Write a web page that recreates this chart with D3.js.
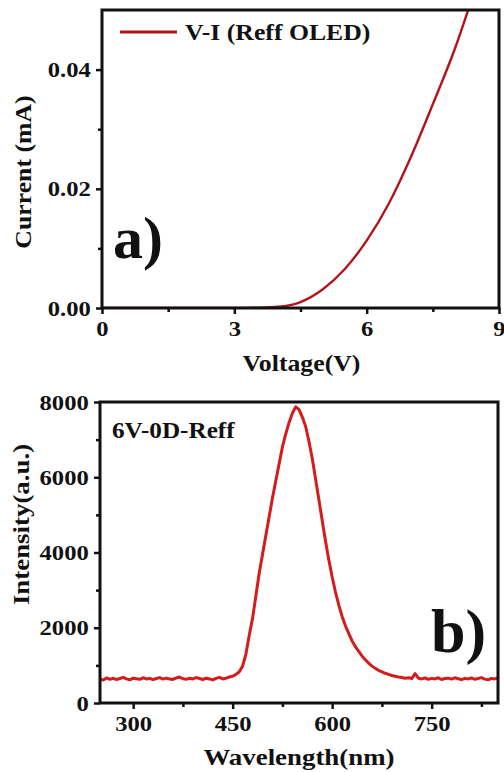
<!DOCTYPE html>
<html><head><meta charset="utf-8">
<script src="https://cdn.jsdelivr.net/npm/d3@7"></script>
<style>
html,body{margin:0;padding:0;background:#fff;}
svg text{font-family:"Liberation Serif","Times New Roman",serif;font-weight:bold;fill:#111;}
</style></head>
<body>
<svg id="c" width="504" height="772"></svg>
<script>
// ---- Panel a data: V-I curve ----
const voltage = [0,0.5,1,1.5,2,2.5,3,3.5,4,4.5,5,5.5,6,6.5,7,7.5,8,8.5];
const current = [0,0,0,0,0,0,0,0.00005,0.0002,0.001,0.0031,0.0065,0.0113,0.0175,0.0253,0.0342,0.0435,0.0545];
const aXTicks = [0,3,6,9];
const aXMinor = [1.5,4.5,7.5];
const aYTicks = [0,0.02,0.04];
const aYMinor = [0.01,0.03];
const aLegend = "V-I (Reff OLED)";

// ---- Panel b data: EL spectrum (5 nm steps) ----
const wavelength = d3.range(250, 851, 5);
const intensity = [
 640,610,665,630,655,625,650,680,640,615,
 660,645,630,670,640,655,620,650,675,635,
 660,640,625,665,690,645,630,660,640,675,
 650,625,660,640,615,655,680,640,660,690,
 710,760,830,980,1300,1800,2250,2850,3450,3950,
 4450,4950,5450,5900,6350,6800,7150,7450,7700,7870,
 7800,7600,7350,6950,6500,5950,5400,4850,4300,3800,
 3350,2950,2600,2300,2050,1850,1650,1500,1370,1250,
 1150,1060,980,920,870,830,790,760,730,710,
 690,680,660,670,650,780,660,640,665,630,
 655,640,670,625,650,660,635,670,645,620,
 655,640,665,630,650,675,635,615,655,640,665];
const bXTicks = [300,450,600,750];
const bXMinor = [375,525,675,825];
const bYTicks = [0,2000,4000,6000,8000];
const bYMinor = [1000,3000,5000,7000];
const bLabel = "6V-0D-Reff";

const SX = 1.12;
const svg = d3.select("#c");

function panel(o){
  const g = svg.append("g");
  const x = d3.scaleLinear().domain(o.xd).range([o.L, o.R]);
  const y = d3.scaleLinear().domain(o.yd).range([o.B, o.T]);
  const id = "clip" + o.name;
  g.append("clipPath").attr("id", id).append("rect")
    .attr("x", o.L).attr("y", o.T).attr("width", o.R - o.L).attr("height", o.B - o.T);
  // minor ticks
  g.append("g").attr("transform", `translate(0,${o.B})`)
    .call(d3.axisBottom(x).tickValues(o.xMinor).tickSize(4).tickFormat(""))
    .call(s => s.select(".domain").remove());
  g.append("g").attr("transform", `translate(${o.L},0)`)
    .call(d3.axisLeft(y).tickValues(o.yMinor).tickSize(4).tickFormat(""))
    .call(s => s.select(".domain").remove());
  // major ticks
  const xa = g.append("g").attr("transform", `translate(0,${o.B})`)
    .call(d3.axisBottom(x).tickValues(o.xTicks).tickSize(6).tickPadding(6).tickFormat(o.xf));
  const ya = g.append("g").attr("transform", `translate(${o.L},0)`)
    .call(d3.axisLeft(y).tickValues(o.yTicks).tickSize(6).tickPadding(4).tickFormat(o.yf));
  [xa, ya].forEach(a => {
    a.select(".domain").remove();
    a.selectAll(".tick text").attr("font-size", o.fs).attr("fill", "#111")
      .attr("font-family", "Liberation Serif").attr("font-weight", "bold");
  });
  g.selectAll(".tick line").attr("stroke", "#111").attr("stroke-width", 2.5);
  xa.selectAll(".tick text").attr("transform", `scale(${SX},1)`).attr("dy", "0.72em");
  ya.selectAll(".tick text").attr("transform", `scale(${SX},1)`);
  // data line
  g.append("path").datum(o.xs.map((v, i) => [v, o.ys[i]]))
    .attr("clip-path", `url(#${id})`)
    .attr("fill", "none").attr("stroke", o.color).attr("stroke-width", o.lw)
    .attr("stroke-linejoin", "round")
    .attr("d", d3.line().x(d => x(d[0])).y(d => y(d[1])).curve(o.curve));
  // frame
  g.append("rect").attr("x", o.L).attr("y", o.T).attr("width", o.R - o.L).attr("height", o.B - o.T)
    .attr("fill", "none").attr("stroke", "#111").attr("stroke-width", 3);
  // axis titles
  g.append("text").attr("transform", `translate(${(o.L + o.R) / 2 + o.xtDx},${o.xtY}) scale(${SX},1)`)
    .attr("text-anchor", "middle").attr("font-size", o.tfs).text(o.xt);
  g.append("text").attr("transform", `translate(${o.ytX},${(o.T + o.B) / 2 + o.ytDy}) rotate(-90) scale(${SX},1)`)
    .attr("text-anchor", "middle").attr("font-size", o.tfs).text(o.yt);
  return {g, x, y};
}

const A = panel({name:"a", L:102, R:499, T:10, B:308, xd:[0,9], yd:[0,0.05],
  xTicks:aXTicks, xMinor:aXMinor, yTicks:aYTicks, yMinor:aYMinor,
  xf:d3.format("d"), yf:d3.format(".2f"), fs:"22px", tfs:"23px",
  xs:voltage, ys:current, color:"#b3141c", lw:2.4, curve:d3.curveMonotoneX,
  xt:"Voltage(V)", xtY:371, xtDx:1, yt:"Current (mA)", ytX:31, ytDy:13});
// legend
A.g.append("line").attr("x1",120).attr("x2",177).attr("y1",32).attr("y2",32)
  .attr("stroke","#b3141c").attr("stroke-width",3);
A.g.append("text").attr("transform",`translate(185,40) scale(${SX},1)`).attr("font-size","23px").text(aLegend);
A.g.append("text").attr("x",113).attr("y",258).attr("font-size","60px").text("a)");

const B = panel({name:"b", L:100, R:498, T:402, B:703, xd:[250,850], yd:[0,8000],
  xTicks:bXTicks, xMinor:bXMinor, yTicks:bYTicks, yMinor:bYMinor,
  xf:d3.format("d"), yf:d3.format("d"), fs:"22px", tfs:"24px",
  xs:wavelength, ys:intensity, color:"#d41c1c", lw:3, curve:d3.curveLinear,
  xt:"Wavelength(nm)", xtY:765, xtDx:0, yt:"Intensity(a.u.)", ytX:29, ytDy:-28});
B.g.append("text").attr("transform",`translate(112,438) scale(1.05,1)`).attr("font-size","24px").text(bLabel);
B.g.append("text").attr("x",431).attr("y",652).attr("font-size","62px").text("b)");
</script>
</body></html>
